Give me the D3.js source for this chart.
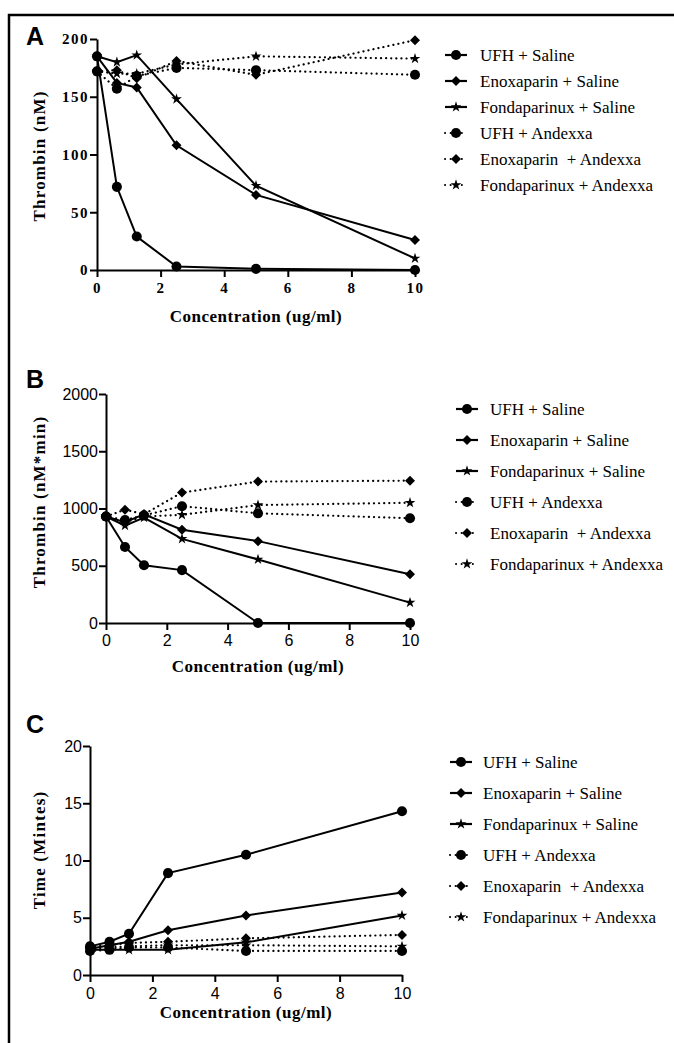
<!DOCTYPE html>
<html>
<head>
<meta charset="utf-8">
<script src="https://cdn.jsdelivr.net/npm/d3@7"></script>
<style>
  body { margin: 0; background: #fff; }
  svg { display: block; }
  text { white-space: pre; }
</style>
</head>
<body>
<svg id="chart" width="674" height="1043"></svg>
<script>
// concentrations (ug/ml) shared by all three panels
const concentrations = [0, 0.625, 1.25, 2.5, 5, 10];
const seriesNames = [
  'UFH + Saline',
  'Enoxaparin + Saline',
  'Fondaparinux + Saline',
  'UFH + Andexxa',
  'Enoxaparin  + Andexxa',
  'Fondaparinux + Andexxa'
];
const xTicks = [0, 2, 4, 6, 8, 10];

// A: peak thrombin (nM), one row per series
const peakThrombin = [
  [185, 72, 29, 3, 1, 0],
  [185, 162, 158, 108, 65, 26],
  [185, 180, 186, 148, 73, 10],
  [172, 157, 168, 175, 173, 169],
  [172, 173, 166, 181, 169, 199],
  [172, 170, 170, 178, 185, 183]
];
const peakTicks = [0, 50, 100, 150, 200];

// B: thrombin generation (nM*min)
const thrombinAUC = [
  [930, 664, 505, 462, 0, 0],
  [930, 880, 950, 815, 715, 425],
  [930, 850, 920, 735, 555, 178],
  [930, 900, 940, 1020, 958, 915],
  [930, 990, 950, 1140, 1235, 1243],
  [930, 880, 930, 945, 1030, 1050]
];
const aucTicks = [0, 500, 1000, 1500, 2000];

// C: lag time (minutes)
const lagTime = [
  [2.5, 2.9, 3.6, 8.9, 10.5, 14.3],
  [2.3, 2.6, 2.9, 3.9, 5.2, 7.2],
  [2.2, 2.2, 2.2, 2.2, 2.85, 5.2],
  [2.1, 2.2, 2.4, 2.4, 2.1, 2.1],
  [2.5, 2.6, 2.8, 2.9, 3.2, 3.5],
  [2.3, 2.4, 2.5, 2.6, 2.6, 2.5]
];
const lagTicks = [0, 5, 10, 15, 20];

const serif = '"Liberation Serif", "Times New Roman", serif';
const sans = '"Liberation Sans", Arial, sans-serif';

const diamond = {
  draw(ctx, size) {
    const r = Math.sqrt(size / 2);
    ctx.moveTo(0, -r); ctx.lineTo(r, 0); ctx.lineTo(0, r); ctx.lineTo(-r, 0); ctx.closePath();
  }
};
const markerFor = [
  d3.symbol().type(d3.symbolCircle).size(80),
  d3.symbol().type(diamond).size(50),
  d3.symbol().type(d3.symbolStar).size(36),
  d3.symbol().type(d3.symbolCircle).size(80),
  d3.symbol().type(diamond).size(50),
  d3.symbol().type(d3.symbolStar).size(36)
];
const dotted = (i) => i >= 3;

const svg = d3.select('#chart');

// outer frame
svg.append('path')
  .attr('d', 'M9,1050 V15 H680')
  .attr('fill', 'none')
  .attr('stroke', '#000')
  .attr('stroke-width', 2.5);

function drawPanel(p) {
  const x = d3.scaleLinear().domain([0, 10]).range([p.x0, p.x1]);
  const y = d3.scaleLinear().domain([0, p.yMax]).range([p.yBot, p.yTop]);

  const g = svg.append('g');

  const yAxis = g.append('g')
    .attr('transform', `translate(${p.x0},0)`)
    .call(d3.axisLeft(y).tickValues(p.yTicks).tickFormat(d3.format('d'))
      .tickSize(7).tickSizeOuter(0).tickPadding(p.yPad));
  const xAxis = g.append('g')
    .attr('transform', `translate(0,${p.yBot})`)
    .call(d3.axisBottom(x).tickValues(xTicks).tickFormat(d3.format('d'))
      .tickSize(7).tickSizeOuter(0).tickPadding(p.xPad));

  [xAxis, yAxis].forEach((ax) => {
    ax.select('.domain').attr('stroke-width', 2);
    ax.selectAll('.tick line').attr('stroke-width', 2);
    ax.selectAll('.tick text')
      .attr('fill', '#000')
      .attr('font-family', p.tickFont)
      .attr('font-weight', p.tickWeight)
      .attr('font-size', p.tickSize)
      .attr('letter-spacing', p.tickSpacing);
  });

  const line = d3.line()
    .x((d, i) => x(concentrations[i]))
    .y((d) => y(d));

  p.data.forEach((row, s) => {
    g.append('path')
      .attr('d', line(row))
      .attr('fill', 'none')
      .attr('stroke', '#000')
      .attr('stroke-width', dotted(s) ? 2.2 : 2)
      .attr('stroke-linecap', dotted(s) ? 'round' : 'butt')
      .attr('stroke-dasharray', dotted(s) ? '0.1,5' : null);
  });
  p.data.forEach((row, s) => {
    g.selectAll(null)
      .data(row)
      .join('path')
      .attr('transform', (d, i) => `translate(${x(concentrations[i])},${y(d)})`)
      .attr('d', markerFor[s]())
      .attr('fill', '#000');
  });

  // panel letter
  g.append('text')
    .attr('x', 26).attr('y', p.letterY)
    .attr('font-family', sans).attr('font-weight', 'bold').attr('font-size', 25)
    .text(p.letter);

  // axis titles
  g.append('text')
    .attr('x', (p.x0 + p.x1) / 2).attr('y', p.xTitleY)
    .attr('text-anchor', 'middle')
    .attr('font-family', serif).attr('font-weight', 'bold').attr('font-size', 17)
    .attr('letter-spacing', 0.5)
    .text('Concentration (ug/ml)');
  g.append('text')
    .attr('transform', `translate(45,${p.yTitleMid}) rotate(-90)`)
    .attr('text-anchor', 'middle')
    .attr('font-family', serif).attr('font-weight', 'bold').attr('font-size', 17)
    .attr('letter-spacing', 1.2)
    .text(p.yTitle);

  // legend
  const leg = g.append('g');
  seriesNames.forEach((name, s) => {
    const ly = p.legY + s * p.legDy;
    const cx = p.legX + 11;
    if (dotted(s)) {
      leg.append('path')
        .attr('d', `M${p.legX},${ly}H${p.legX + 22}`)
        .attr('stroke', '#000').attr('stroke-width', 2)
        .attr('stroke-linecap', 'round')
        .attr('stroke-dasharray', '0.1,5.5');
    } else {
      leg.append('path')
        .attr('d', `M${p.legX},${ly}H${p.legX + 22}`)
        .attr('stroke', '#000').attr('stroke-width', 2.2);
    }
    leg.append('path')
      .attr('transform', `translate(${cx},${ly})`)
      .attr('d', markerFor[s]())
      .attr('fill', '#000');
    leg.append('text')
      .attr('x', p.legTextX).attr('y', ly + 5.5)
      .attr('font-family', serif).attr('font-size', 17)
      .text(name);
  });
}

drawPanel({
  letter: 'A', letterY: 45, data: peakThrombin, yMax: 200, yTicks: peakTicks,
  x0: 97, x1: 415, yTop: 39, yBot: 270, xPad: 5, yPad: 1,
  tickFont: serif, tickWeight: 'bold', tickSize: 15, tickSpacing: 1.5,
  xTitleY: 322, yTitle: 'Thrombin (nM)', yTitleMid: 156,
  legX: 445, legTextX: 480, legY: 55, legDy: 26
});
drawPanel({
  letter: 'B', letterY: 388, data: thrombinAUC, yMax: 2000, yTicks: aucTicks,
  x0: 106, x1: 410, yTop: 394, yBot: 623, xPad: 5, yPad: 1,
  tickFont: sans, tickWeight: 'normal', tickSize: 16, tickSpacing: 0,
  xTitleY: 672, yTitle: 'Thrombin (nM*min)', yTitleMid: 502,
  legX: 456, legTextX: 490, legY: 409, legDy: 31
});
drawPanel({
  letter: 'C', letterY: 733, data: lagTime, yMax: 20, yTicks: lagTicks,
  x0: 90, x1: 402, yTop: 746, yBot: 975, xPad: 6, yPad: 1,
  tickFont: sans, tickWeight: 'normal', tickSize: 16, tickSpacing: 0,
  xTitleY: 1018, yTitle: 'Time (Mintes)', yTitleMid: 850,
  legX: 450, legTextX: 483, legY: 762, legDy: 31
});
</script>
</body>
</html>
